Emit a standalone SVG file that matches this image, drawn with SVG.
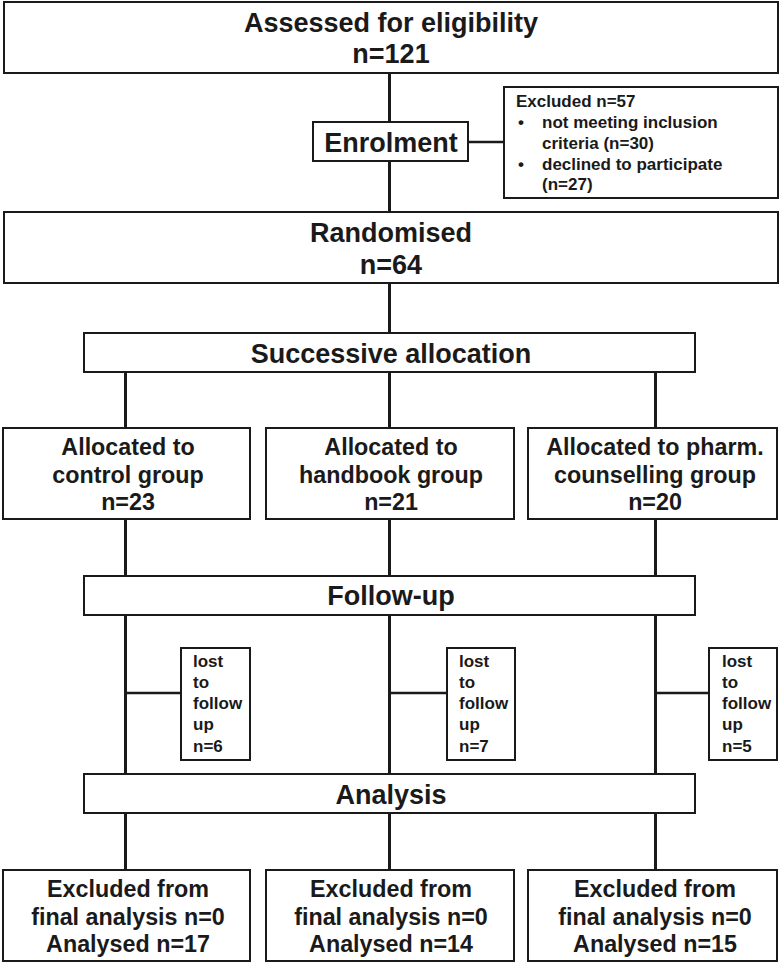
<svg xmlns="http://www.w3.org/2000/svg" width="780" height="963" viewBox="0 0 780 963">
<style>
.box{fill:#fff;stroke:#1a1a1a;stroke-width:2}
.ln{stroke:#1a1a1a;stroke-width:3;fill:none}
.br{stroke:#1a1a1a;stroke-width:2.5;fill:none}
text{font-family:"Liberation Sans",Arial,sans-serif;font-weight:bold;fill:#1a1a1a}
.big{font-size:27px;text-anchor:middle}
.mid{font-size:23.3px;text-anchor:middle}
.sm{font-size:17px}
</style>
<rect width="780" height="963" fill="#fff"/>
<g id="connectors">
<line class="ln" x1="389.5" y1="73" x2="389.5" y2="122"/>
<line class="ln" x1="389.5" y1="161" x2="389.5" y2="212"/>
<line class="br" x1="468" y1="142" x2="504" y2="142"/>
<line class="ln" x1="389.5" y1="283" x2="389.5" y2="333"/>
<line class="ln" x1="125.5" y1="372" x2="125.5" y2="428"/>
<line class="ln" x1="389.5" y1="372" x2="389.5" y2="428"/>
<line class="ln" x1="655.5" y1="372" x2="655.5" y2="428"/>
<line class="ln" x1="125.5" y1="519" x2="125.5" y2="576"/>
<line class="ln" x1="389.5" y1="519" x2="389.5" y2="576"/>
<line class="ln" x1="655.5" y1="519" x2="655.5" y2="576"/>
<line class="ln" x1="125.5" y1="615" x2="125.5" y2="774"/>
<line class="ln" x1="389.5" y1="615" x2="389.5" y2="774"/>
<line class="ln" x1="655.5" y1="615" x2="655.5" y2="774"/>
<line class="br" x1="125.5" y1="693" x2="181" y2="693"/>
<line class="br" x1="389.5" y1="693" x2="447" y2="693"/>
<line class="br" x1="655.5" y1="693" x2="709" y2="693"/>
<line class="ln" x1="125.5" y1="813" x2="125.5" y2="870"/>
<line class="ln" x1="389.5" y1="813" x2="389.5" y2="870"/>
<line class="ln" x1="655.5" y1="813" x2="655.5" y2="870"/>
</g>
<g id="assessed">
<rect class="box" x="4" y="2" width="774" height="71"/>
<text class="big" x="391" y="32">Assessed for eligibility</text>
<text class="big" x="391" y="63">n=121</text>
</g>
<g id="enrolment">
<rect class="box" x="313" y="122" width="155" height="39"/>
<text class="big" x="391" y="152">Enrolment</text>
</g>
<g id="excluded">
<rect class="box" x="504" y="87" width="274" height="111"/>
<text class="sm" x="516" y="107">Excluded n=57</text>
<text class="sm" x="518" y="128">•</text>
<text class="sm" x="542" y="128">not meeting inclusion</text>
<text class="sm" x="542" y="149">criteria (n=30)</text>
<text class="sm" x="518" y="170">•</text>
<text class="sm" x="542" y="170">declined to participate</text>
<text class="sm" x="542" y="190">(n=27)</text>
</g>
<g id="randomised">
<rect class="box" x="4" y="212" width="774" height="71"/>
<text class="big" x="391" y="242">Randomised</text>
<text class="big" x="391" y="274">n=64</text>
</g>
<g id="allocation">
<rect class="box" x="84" y="333" width="611" height="39"/>
<text class="big" x="391" y="363">Successive allocation</text>
</g>
<g id="control">
<rect class="box" x="3" y="428" width="247" height="91"/>
<text class="mid" x="128" y="455">Allocated to</text>
<text class="mid" x="128" y="482.5">control group</text>
<text class="mid" x="128" y="510">n=23</text>
</g>
<g id="handbook">
<rect class="box" x="266" y="428" width="248" height="91"/>
<text class="mid" x="391" y="455">Allocated to</text>
<text class="mid" x="391" y="482.5">handbook group</text>
<text class="mid" x="391" y="510">n=21</text>
</g>
<g id="counselling">
<rect class="box" x="528" y="428" width="249" height="91"/>
<text class="mid" x="655" y="455">Allocated to pharm.</text>
<text class="mid" x="655" y="482.5">counselling group</text>
<text class="mid" x="655" y="510">n=20</text>
</g>
<g id="followup">
<rect class="box" x="84" y="576" width="611" height="39"/>
<text class="big" x="391" y="605">Follow-up</text>
</g>
<g id="lost1">
<rect class="box" x="181" y="648" width="69" height="112"/>
<text class="sm" x="193" y="667">lost</text>
<text class="sm" x="193" y="688">to</text>
<text class="sm" x="193" y="709">follow</text>
<text class="sm" x="193" y="730">up</text>
<text class="sm" x="193" y="752">n=6</text>
</g>
<g id="lost2">
<rect class="box" x="447" y="648" width="68" height="112"/>
<text class="sm" x="459" y="667">lost</text>
<text class="sm" x="459" y="688">to</text>
<text class="sm" x="459" y="709">follow</text>
<text class="sm" x="459" y="730">up</text>
<text class="sm" x="459" y="752">n=7</text>
</g>
<g id="lost3">
<rect class="box" x="709" y="648" width="68" height="112"/>
<text class="sm" x="722" y="667">lost</text>
<text class="sm" x="722" y="688">to</text>
<text class="sm" x="722" y="709">follow</text>
<text class="sm" x="722" y="730">up</text>
<text class="sm" x="722" y="752">n=5</text>
</g>
<g id="analysis">
<rect class="box" x="84" y="774" width="611" height="39"/>
<text class="big" x="391" y="804">Analysis</text>
</g>
<g id="result1">
<rect class="box" x="3" y="870" width="247" height="91"/>
<text class="mid" x="128" y="897">Excluded from</text>
<text class="mid" x="128" y="924.5">final analysis n=0</text>
<text class="mid" x="128" y="952">Analysed n=17</text>
</g>
<g id="result2">
<rect class="box" x="266" y="870" width="248" height="91"/>
<text class="mid" x="391" y="897">Excluded from</text>
<text class="mid" x="391" y="924.5">final analysis n=0</text>
<text class="mid" x="391" y="952">Analysed n=14</text>
</g>
<g id="result3">
<rect class="box" x="528" y="870" width="249" height="91"/>
<text class="mid" x="655" y="897">Excluded from</text>
<text class="mid" x="655" y="924.5">final analysis n=0</text>
<text class="mid" x="655" y="952">Analysed n=15</text>
</g>
</svg>
